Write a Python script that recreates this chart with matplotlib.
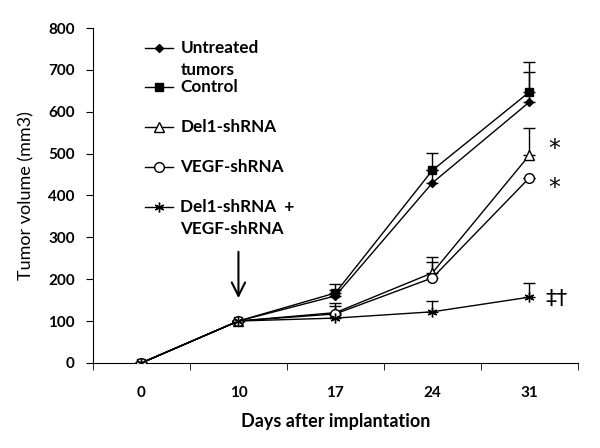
import numpy as np
import matplotlib.pyplot as plt

days = ['0', '10', '17', '24', '31']
untreated = [0, 100, 160, 430, 623]
control = [0, 100, 167, 460, 647]
del1 = [0, 100, 120, 215, 496]
vegf = [0, 100, 117, 203, 442]
combo = [0, 100, 107, 122, 157]

untreated_err = [0, 0, 15, 30, 72]
control_err = [0, 0, 22, 41, 71]
del1_err = [0, 0, 24, 38, 65]
vegf_err = [0, 0, 18, 38, 0]
combo_err = [0, 0, 8, 26, 34]

labels = [['Untreated', 'tumors'], ['Control'], ['Del1-shRNA'], ['VEGF-shRNA'],
          ['Del1-shRNA  +', 'VEGF-shRNA']]

plt.rcParams['font.family'] = ['Lato', 'DejaVu Sans']

fig = plt.figure(figsize=(6, 4.48), dpi=100)
ax = fig.add_axes([0.155, 0.19, 0.808, 0.7475])

x = np.arange(len(days))
styles = [
    dict(marker='D', ms=4, mfc='black', mec='black'),
    dict(marker='s', ms=6, mfc='black', mec='black'),
    dict(marker='^', ms=7, mfc='white', mec='black'),
    dict(marker='o', ms=7, mfc='white', mec='black'),
    dict(marker=(6, 2, 0), ms=7, mfc='black', mec='black', mew=1.0),
]
series = [untreated, control, del1, vegf, combo]
errs = [untreated_err, control_err, del1_err, vegf_err, combo_err]

for s, e, st in zip(series, errs, styles):
    ax.errorbar(x, s, yerr=[np.zeros(len(e)), e], color='black', lw=1.0,
                capsize=4, elinewidth=1.0, capthick=1.0, zorder=3, **st)

ax.set_xlim(-0.5, 4.5)
ax.set_ylim(0, 800)
ax.set_yticks(np.arange(0, 801, 100))
ax.set_xticks(x)
ax.set_xticklabels(days)
ax.set_xticks(np.arange(-0.5, 4.6, 1), minor=True)
ax.tick_params(axis='x', which='major', length=0, pad=17)
ax.tick_params(axis='x', which='minor', length=5, direction='out')
ax.tick_params(axis='y', length=5, direction='out', pad=8)
for lab in ax.get_xticklabels() + ax.get_yticklabels():
    lab.set_fontweight('bold')
    lab.set_fontsize(11)
ax.spines['top'].set_visible(False)
ax.spines['right'].set_visible(False)
ax.set_xlabel('Days after implantation', fontsize=13, fontweight='bold', labelpad=9)
ax.set_ylabel('Tumor volume (mm3)', fontsize=13, labelpad=10)

# arrow at treatment start
ax.annotate('', xy=(1, 148), xytext=(1, 272),
            arrowprops=dict(arrowstyle='->', color='black', lw=1.5, mutation_scale=24))

# significance marks
ax.text(4.2, 512, '*', fontsize=17, ha='left', va='center', family='DejaVu Sans')
ax.text(4.2, 417, '*', fontsize=17, ha='left', va='center', family='DejaVu Sans')
ax.text(4.17, 152, '‡†', fontsize=16, ha='left', va='center', family='DejaVu Sans')

# manual legend
leg_y = [752, 658, 563, 468, 372]
for ly, lab, st in zip(leg_y, labels, styles):
    ax.plot([0.04, 0.18, 0.32], [ly, ly, ly], color='black', lw=1.0, markevery=[1], **st)
    for i, line in enumerate(lab):
        ax.text(0.40, ly - i * 53, line, fontsize=12.3, fontweight='bold',
                ha='left', va='center')

fig.savefig('out.png', dpi=100)
